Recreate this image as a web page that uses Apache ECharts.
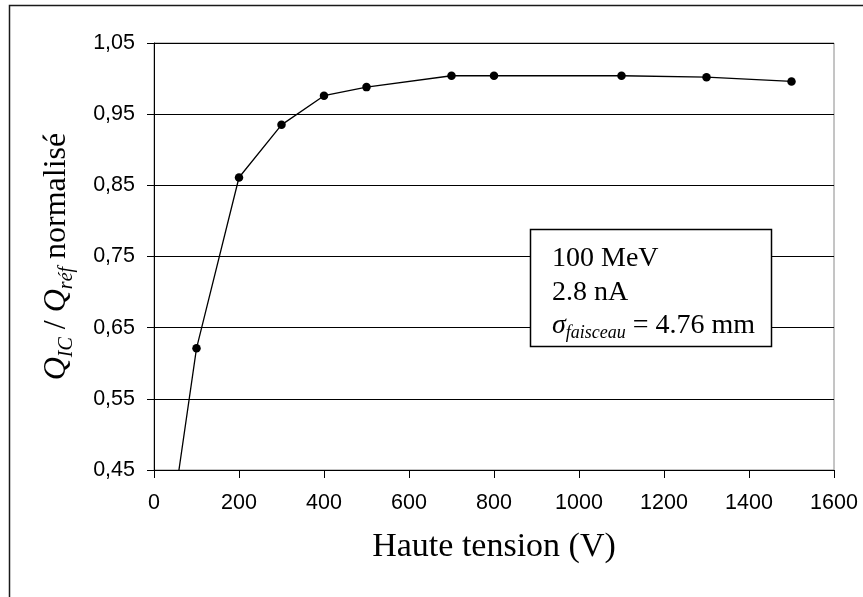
<!DOCTYPE html>
<html>
<head>
<meta charset="utf-8">
<script src="https://cdn.jsdelivr.net/npm/echarts@6/dist/echarts.min.js"></script>
<style>
html,body{margin:0;padding:0;background:#fff;}
#chart{width:863px;height:597px;}
</style>
</head>
<body>
<div id="chart"></div>
<script>
// Data
const voltages = [50, 100, 200, 300, 400, 500, 700, 800, 1100, 1300, 1500];
const normalizedCharge = [0.414, 0.621, 0.861, 0.935, 0.976, 0.988, 1.004, 1.004, 1.004, 1.002, 0.996];
const xTicks = { min: 0, max: 1600, interval: 200 };
const yTicks = { min: 0.45, max: 1.05, interval: 0.1 };
const xTitle = 'Haute tension (V)';
const annotationLines = ['100 MeV', '2.8 nA', '= 4.76 mm'];

const seriesData = voltages.map((v, i) => [v, normalizedCharge[i]]);

const chart = echarts.init(document.getElementById('chart'), null, { renderer: 'canvas' });
const serif = 'Liberation Serif, Times New Roman, serif';
const sans = 'Liberation Sans, Arial, sans-serif';

chart.setOption({
  animation: false,
  backgroundColor: '#fff',
  grid: {
    left: 154, right: 29, top: 43, bottom: 127,
    show: true, borderColor: '#8a8a8a', borderWidth: 1, backgroundColor: 'transparent'
  },
  xAxis: {
    type: 'value',
    min: xTicks.min, max: xTicks.max, interval: xTicks.interval,
    axisLine: { show: true, onZero: false, lineStyle: { color: '#000', width: 1 } },
    axisTick: { show: true, length: 8, lineStyle: { color: '#000' } },
    splitLine: { show: false },
    axisLabel: { color: '#000', fontFamily: sans, fontSize: 21.5, margin: 22, formatter: v => String(v) },
    name: xTitle,
    nameLocation: 'middle',
    nameGap: 60,
    nameTextStyle: { color: '#000', fontFamily: serif, fontSize: 34 }
  },
  yAxis: {
    type: 'value',
    min: yTicks.min, max: yTicks.max, interval: yTicks.interval,
    axisLine: { show: true, lineStyle: { color: '#000', width: 1 } },
    axisTick: { show: true, length: 7, lineStyle: { color: '#000' } },
    splitLine: { show: true, lineStyle: { color: '#000', width: 1 } },
    axisLabel: {
      color: '#000', fontFamily: sans, fontSize: 21.5, margin: 19,
      formatter: v => v.toFixed(2).replace('.', ',')
    },
    name: '{q|Q}{sub|IC}{m| / }{q|Q}{sub|réf}{m| normalisé}',
    nameLocation: 'middle',
    nameGap: 77,
    nameTextStyle: {
      color: '#000',
      rich: {
        q: { fontFamily: serif, fontSize: 32, fontStyle: 'italic', lineHeight: 40, color: '#000' },
        m: { fontFamily: serif, fontSize: 32, lineHeight: 40, color: '#000' },
        sub: { fontFamily: serif, fontSize: 20, fontStyle: 'italic', lineHeight: 21, verticalAlign: 'bottom', color: '#000' }
      }
    }
  },
  series: [{
    type: 'line',
    data: seriesData,
    clip: true,
    symbol: 'circle',
    symbolSize: 8.5,
    showSymbol: true,
    itemStyle: { color: '#000' },
    lineStyle: { color: '#000', width: 1.3 },
    z: 5
  }],
  graphic: [
    {
      type: 'rect',
      shape: { x: 9.5, y: 5.5, width: 1000, height: 1000 },
      style: { fill: 'none', stroke: '#1a1a1a', lineWidth: 1.5 },
      silent: true, z: 100
    },
    {
      type: 'rect',
      shape: { x: 530.5, y: 229.5, width: 241, height: 117 },
      style: { fill: '#fff', stroke: '#000', lineWidth: 1.5 },
      z: 100
    },
    {
      type: 'text',
      x: 552, y: 242,
      z: 101,
      style: {
        text: '{a|' + annotationLines[0] + '}\n{a|' + annotationLines[1] + '}\n{s|σ}{sub|faisceau}{a| ' + annotationLines[2] + '}',
        rich: {
          a: { fontFamily: serif, fontSize: 28, lineHeight: 33.5, fill: '#000' },
          s: { fontFamily: serif, fontSize: 28, fontStyle: 'italic', lineHeight: 33.5, fill: '#000' },
          sub: { fontFamily: serif, fontSize: 18, fontStyle: 'italic', lineHeight: 17.5, verticalAlign: 'bottom', fill: '#000' }
        }
      }
    }
  ]
});
</script>
</body>
</html>
